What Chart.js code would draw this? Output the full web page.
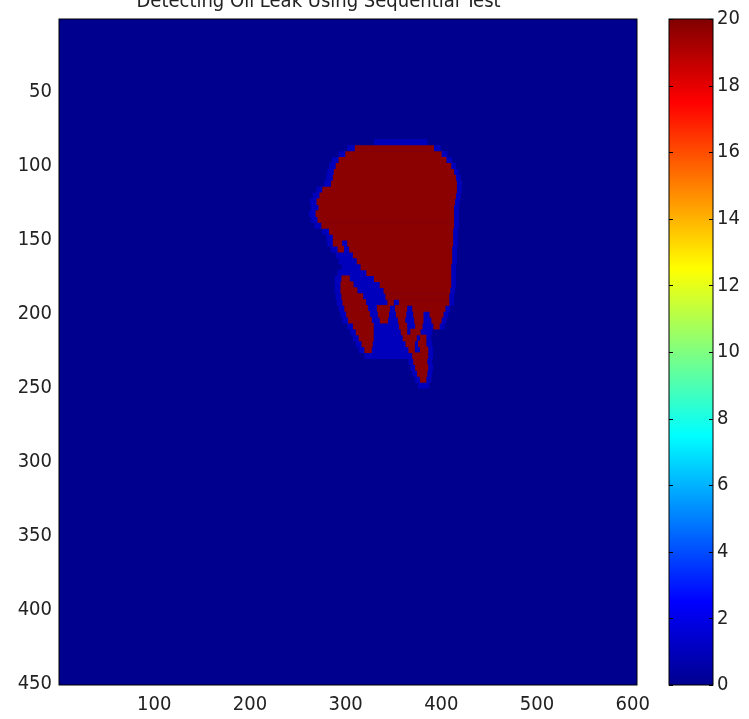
<!DOCTYPE html>
<html>
<head>
<meta charset="utf-8">
<script src="https://cdn.jsdelivr.net/npm/chart.js@4"></script>
<style>
html, body { margin: 0; padding: 0; background: #fff; overflow: hidden; }
#wrap { position: relative; width: 749px; height: 719px; overflow: hidden; }
#main { position: absolute; left: 0; top: -10px; }
#cbar { position: absolute; left: 640px; top: 0; }
</style>
</head>
<body>
<div id="wrap">
<canvas id="main" width="749" height="729"></canvas>
<canvas id="cbar" width="109" height="719"></canvas>
</div>
<script>
// leak region (value 20), one entry per horizontal run: row, start col, end col
const segY  = [88, 92, 96, 100, 104, 108, 112, 116, 120, 124, 128, 132, 136, 140, 144, 148,
  152, 152, 156, 156, 160, 164, 168, 172, 176, 176, 180, 180, 184, 184, 188, 188,
  192, 192, 192, 196, 196, 196, 196, 200, 200, 200, 200, 200, 204, 204, 204, 204, 204,
  208, 208, 208, 208, 212, 212, 212, 216, 216, 216, 220, 220, 220, 224, 224, 224,
  228, 232, 236, 240, 244];
const segX0 = [310, 300, 293, 290, 288, 287, 285, 276, 273, 270, 272, 269, 271, 275, 283, 287,
  287, 302, 292, 304, 308, 312, 316, 322, 296, 330, 295, 336, 295, 340, 296, 342,
  297, 344, 356, 299, 333, 352, 370, 301, 334, 353, 371, 388, 303, 336, 355, 372, 390,
  308, 356, 373, 392, 311, 358, 368, 314, 360, 378, 317, 363, 376, 320, 366, 378,
  370, 371, 373, 375, 378];
const segX1 = [392, 400, 405, 410, 413, 415, 416, 416, 415, 414, 413, 413, 413, 413, 412, 412,
  296, 412, 298, 411, 411, 411, 410, 410, 304, 410, 308, 410, 312, 409, 318, 408,
  321, 350, 408, 323, 346, 364, 404, 325, 345, 363, 381, 402, 327, 344, 362, 381, 400,
  329, 364, 380, 398, 329, 364, 378, 329, 374, 384, 328, 372, 384, 327, 372, 386,
  386, 385, 386, 385, 384];
const leakValue = 20;

// low values (about 3) around the leak edge
const haloY  = [84, 88, 92, 96, 100, 104, 108, 112, 116, 120, 124, 128, 132, 136, 140, 144,
  148, 152, 156, 160, 164, 168, 172, 176, 180, 184, 188, 192, 196, 200, 204, 208,
  212, 216, 220, 224, 228, 232, 236, 240, 244, 248];
const haloX0 = [330, 302, 293, 286, 283, 281, 280, 278, 270, 266, 263, 264, 262, 264, 268, 276,
  280, 281, 285, 290, 293, 296, 292, 289, 289, 289, 290, 291, 293, 295, 297, 302,
  305, 308, 311, 314, 320, 366, 368, 370, 373, 376];
const haloX1 = [385, 399, 406, 411, 415, 418, 420, 421, 421, 420, 419, 418, 418, 418, 418, 417,
  417, 417, 416, 416, 416, 415, 415, 415, 415, 414, 413, 413, 409, 407, 405, 403,
  390, 389, 390, 391, 391, 390, 391, 390, 389, 387];

const xTicks = [100, 200, 300, 400, 500, 600];
const yTicks = [50, 100, 150, 200, 250, 300, 350, 400, 450];
const cbTicks = [0, 2, 4, 6, 8, 10, 12, 14, 16, 18, 20];
const titleText = 'Detecting Oil Leak Using Sequential Test';

const FONT = '"DejaVu Sans Condensed", "Liberation Sans", sans-serif';

const leakData = segY.map((y, i) => ({ y: y, x: [segX0[i], segX1[i]] }));
const haloData = haloY.map((y, i) => ({ y: y, x: [haloX0[i], haloX1[i]] }));

// dark blue background + black frame
const frame = {
  id: 'frame',
  beforeDatasetsDraw(chart) {
    const a = chart.chartArea, c = chart.ctx;
    c.save();
    c.fillStyle = '#00008f';
    c.fillRect(a.left, a.top, a.right - a.left, a.bottom - a.top);
    c.restore();
  },
  afterDraw(chart) {
    const a = chart.chartArea, c = chart.ctx;
    c.save();
    c.strokeStyle = '#000';
    c.lineWidth = 1;
    c.strokeRect(a.left, a.top, a.right - a.left, a.bottom - a.top);
    c.restore();
  }
};

new Chart(document.getElementById('main'), {
  type: 'bar',
  data: {
    datasets: [{
      label: 'leak',
      data: leakData,
      backgroundColor: '#8b0000',
      borderWidth: 0,
      grouped: false,
      order: 1,
      barPercentage: 1,
      categoryPercentage: 1
    }, {
      label: 'edge',
      data: haloData,
      backgroundColor: '#0000bc',
      borderWidth: 0,
      grouped: false,
      order: 2,
      barPercentage: 1,
      categoryPercentage: 1
    }]
  },
  options: {
    indexAxis: 'y',
    responsive: false,
    animation: false,
    layout: { padding: { left: 0, right: 112, top: 0, bottom: 0 } },
    plugins: {
      legend: { display: false },
      tooltip: { enabled: false },
      title: {
        display: true,
        text: titleText,
        color: '#222',
        font: { family: FONT, size: 20, weight: 'normal', lineHeight: 1.2 },
        padding: { top: 0, bottom: 5 }
      }
    },
    scales: {
      x: {
        type: 'linear',
        position: 'bottom',
        min: 0.5, max: 604.5,
        beginAtZero: false,
        grid: { display: false, drawTicks: false },
        border: { display: false },
        afterBuildTicks: s => { s.ticks = xTicks.map(v => ({ value: v })); },
        afterFit: s => { s.height = 34; },
        ticks: { color: '#222', padding: 8, maxRotation: 0, font: { family: FONT, size: 20 } }
      },
      y: {
        type: 'linear',
        reverse: true,
        offset: false,
        min: 0.5, max: 450.5,
        grid: { display: false, drawTicks: false },
        border: { display: false },
        afterBuildTicks: s => { s.ticks = yTicks.map(v => ({ value: v })); },
        afterFit: s => { s.width = 59; },
        ticks: { color: '#222', padding: 7, font: { family: FONT, size: 20 } }
      }
    }
  },
  plugins: [frame]
});

// jet colour bar
const cbFrame = {
  id: 'cbFrame',
  afterDraw(chart) {
    const a = chart.chartArea, c = chart.ctx, s = chart.scales.y;
    c.save();
    c.strokeStyle = '#000';
    c.lineWidth = 1;
    c.strokeRect(a.left, a.top, a.right - a.left, a.bottom - a.top);
    c.beginPath();
    cbTicks.forEach(v => {
      const y = Math.round(s.getPixelForValue(v)) + 0.5;
      c.moveTo(a.left, y); c.lineTo(a.left + 4, y);
      c.moveTo(a.right - 4, y); c.lineTo(a.right, y);
    });
    c.stroke();
    c.restore();
  }
};

new Chart(document.getElementById('cbar'), {
  type: 'bar',
  data: {
    labels: ['cb'],
    datasets: [{
      data: [[0, leakValue]],
      borderWidth: 0,
      barPercentage: 1,
      categoryPercentage: 1,
      backgroundColor: ctx => {
        const a = ctx.chart.chartArea;
        if (!a) return '#00008f';
        const g = ctx.chart.ctx.createLinearGradient(0, a.bottom, 0, a.top);
        g.addColorStop(0, '#00008f');
        g.addColorStop(0.125, '#0000ff');
        g.addColorStop(0.375, '#00ffff');
        g.addColorStop(0.625, '#ffff00');
        g.addColorStop(0.875, '#ff0000');
        g.addColorStop(1, '#800000');
        return g;
      }
    }]
  },
  options: {
    responsive: false,
    animation: false,
    layout: { padding: { left: 29, right: 0, top: 19, bottom: 34 } },
    plugins: { legend: { display: false }, tooltip: { enabled: false } },
    scales: {
      x: { display: false },
      y: {
        position: 'right',
        min: 0, max: leakValue,
        grid: { display: false, drawTicks: false },
        border: { display: false },
        afterBuildTicks: s => { s.ticks = cbTicks.map(v => ({ value: v })); },
        afterFit: s => { s.width = 36; },
        ticks: { color: '#222', padding: 4, font: { family: FONT, size: 20 } }
      }
    }
  },
  plugins: [cbFrame]
});
</script>
</body>
</html>
